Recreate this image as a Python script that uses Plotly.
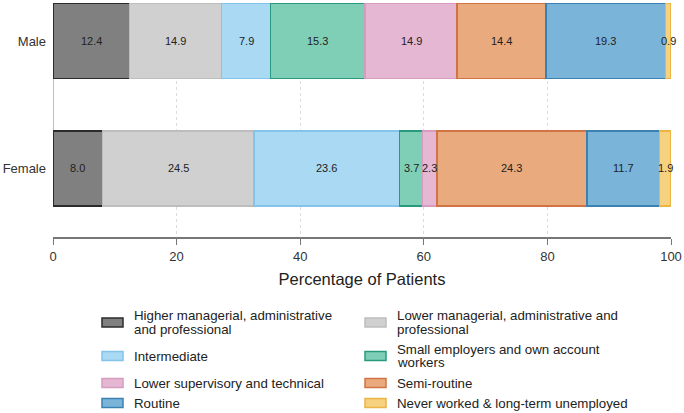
import plotly.graph_objects as go

groups = ["Female", "Male"]
categories = [
    "Higher managerial, administrative and professional",
    "Lower managerial, administrative and professional",
    "Intermediate",
    "Small employers and own account workers",
    "Lower supervisory and technical",
    "Semi-routine",
    "Routine",
    "Never worked & long-term unemployed",
]
legend_lines = [
    ["Higher managerial, administrative", "and professional"],
    ["Lower managerial, administrative and", "professional"],
    ["Intermediate"],
    ["Small employers and own account", "workers"],
    ["Lower supervisory and technical"],
    ["Semi-routine"],
    ["Routine"],
    ["Never worked & long-term unemployed"],
]
male_values = [12.4, 14.9, 7.9, 15.3, 14.9, 14.4, 19.3, 0.9]
female_values = [8.0, 24.5, 23.6, 3.7, 2.3, 24.3, 11.7, 1.9]
x_ticks = [0, 20, 40, 60, 80, 100]

fills = ["#808080", "#d0d0d0", "#a9d9f3", "#7fcfb6", "#e6b7d3", "#e9ab7e", "#7bb4d9", "#f6d17f"]
borders = ["#2b2b2b", "#bdbdbd", "#84c4ea", "#2a9a7e", "#d59cc0", "#d27344", "#3b82b3", "#ebb445"]

FONT = "Liberation Sans, Arial, sans-serif"
W, H = 684, 413
ML, MR, MT, MB = 53, 13, 3, 176

series = {"Female": female_values, "Male": male_values}

fig = go.Figure()
for i, cat in enumerate(categories):
    vals = [female_values[i], male_values[i]]
    fig.add_trace(go.Bar(
        y=groups, x=vals, orientation="h", name=cat,
        marker=dict(color=fills[i], line=dict(color=borders[i], width=1.5)),
        width=0.59, showlegend=False, cliponaxis=False,
        hoverinfo="x+name",
    ))

# value labels centred in each segment
for g in groups:
    cum = 0.0
    for v in series[g]:
        fig.add_annotation(x=cum + v / 2, y=g, xref="x", yref="y", text=f"{v:.1f}",
                           showarrow=False, font=dict(size=11, color="#222", family=FONT))
        cum += v

fig.update_layout(
    barmode="stack",
    width=W, height=H,
    margin=dict(l=ML, r=MR, t=MT, b=MB, autoexpand=False),
    plot_bgcolor="white", paper_bgcolor="white",
    font=dict(family=FONT, color="#333", size=13),
    xaxis=dict(
        range=[0, 100], tickvals=x_ticks, ticktext=[str(t) for t in x_ticks],
        showgrid=True, gridcolor="#dcdcdc", griddash="dot", gridwidth=1,
        showline=True, linecolor="#777", linewidth=2,
        ticks="outside", ticklen=6, tickcolor="#777", tickwidth=1,
        tickfont=dict(size=13, color="#333"),
        title=dict(text="Percentage of Patients", font=dict(size=16.5, color="#222"), standoff=11),
        zeroline=False, fixedrange=True, automargin=False,
    ),
    yaxis=dict(
        categoryorder="array", categoryarray=groups,
        range=[-0.54, 1.30], showgrid=False, zeroline=False, showline=False,
        ticks="", ticklabelstandoff=6, automargin=False,
        tickfont=dict(size=13, color="#333"),
    ),
)

# short y-axis line segment between the bars
fig.add_shape(type="line", xref="x", yref="y", x0=0, x1=0, y0=0.29, y1=0.71,
              line=dict(color="#aaa", width=1.5), layer="below")

# manual legend (two columns)
plot_h = H - MT - MB
plot_w = W - ML - MR
def pxx(px):
    return (px - ML) / plot_w
def pxy(py):
    return (H - MB - py) / plot_h

col_x = [102, 365]
row_y = [322.5, 356, 383, 403]
for i, lines in enumerate(legend_lines):
    col = i % 2
    row = i // 2
    cy = row_y[row]
    fig.add_shape(type="rect", xref="paper", yref="paper",
                  x0=pxx(col_x[col]), x1=pxx(col_x[col] + 21),
                  y0=pxy(cy + 4.5), y1=pxy(cy - 4.5),
                  fillcolor=fills[i], line=dict(color=borders[i], width=1.5))
    n = len(lines)
    for j, ln in enumerate(lines):
        ly = cy + (j - (n - 1) / 2) * 14
        fig.add_annotation(xref="paper", yref="paper", x=pxx(col_x[col] + 31), y=pxy(ly),
                           text=ln, showarrow=False, xanchor="left", yanchor="middle",
                           align="left", borderpad=0,
                           font=dict(size=13.3, color="#222", family=FONT))

fig.write_html("out.html", config={"displayModeBar": False},
               post_script="document.body.style.margin='0';")
